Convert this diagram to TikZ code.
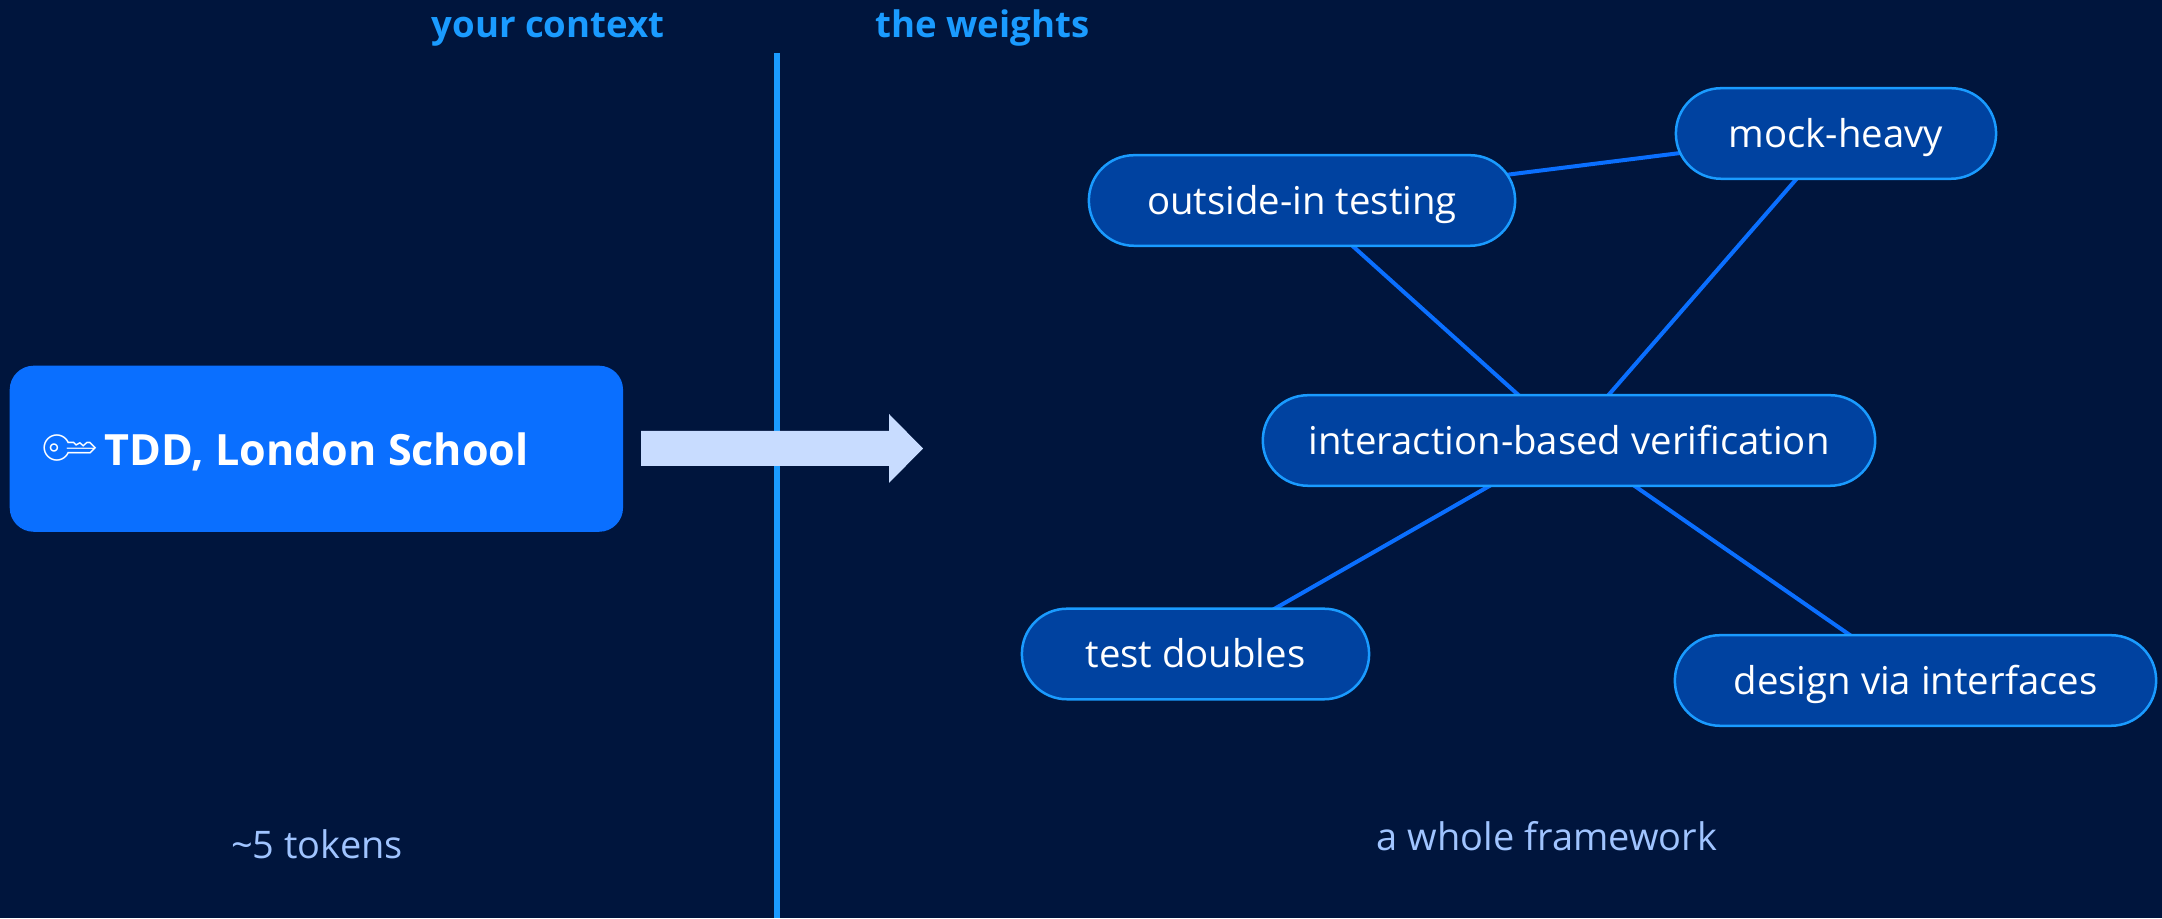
\documentclass[tikz,border=0pt]{standalone}
\usepackage{fontspec}
\usepackage{tikz}
\usetikzlibrary{backgrounds,positioning}
\setmainfont{Open Sans}
\newfontfamily\emojifont{Noto Emoji}
\definecolor{my_bg}{RGB}{0, 21, 61}
\definecolor{my_box}{RGB}{10, 111, 255}
\definecolor{my_pill}{RGB}{0, 66, 160}
\definecolor{my_sky}{RGB}{26, 155, 255}
\definecolor{my_pale}{RGB}{200, 220, 255}
\definecolor{my_muted}{RGB}{160, 196, 255}
\tikzset{
  pill/.style = {draw=my_sky, line width=0.025cm, fill=my_pill, rounded corners=0.45cm,
  text=white, inner sep=0pt, minimum height=0.905cm, text height=0.37cm, text depth=0.09cm,
  font=\fontsize{10.9}{13}\selectfont},
  caption/.style = {anchor=base, inner sep=0pt, text=my_muted, font=\fontsize{10.8}{13}\selectfont},
  heading/.style = {anchor=base, inner sep=0pt, text=my_sky, font=\fontsize{10.4}{13}\selectfont\bfseries},
  edge/.style = {draw=my_box, line width=0.04cm}
}

\begin{document}
\begin{tikzpicture}[x=0.01cm, y=-0.01cm]
    \useasboundingbox (0,0) rectangle (2162,918.4);
    \coordinate (divider_top) at (777,53);
    \coordinate (divider_bot) at (777,918.4);
    \draw[my_sky, line width=0.06cm] (divider_top) -- (divider_bot);

    \node [heading] (your_context) at (548,38) {your context};
    \node [heading] (the_weights) at (982.5,38) {the weights};

    \node [fill=my_box, rounded corners=0.24cm, anchor=north west, inner sep=0pt, minimum width=6.13cm,
        minimum height=1.66cm] (key_box) at (9,365) {};
    \node [anchor=base west, inner sep=0pt, text=white, font=\fontsize{12.25}{14}\selectfont\bfseries]
        (key_label) at (104,465.5) {TDD, London School};
    \node [inner sep=0pt, text=white, rotate=135, font=\emojifont\fontsize{11.5}{13}\selectfont]
        (key_icon) at (67.5,448) {^^^^^^01f511};
    \fill[my_pale] (641,431) -- (889,431) -- (889,414) -- (923,448.5) -- (889,483) -- (889,466)
        -- (641,466) -- cycle;

    \node [pill, minimum width=4.26cm] (outside_in) at (1302,200.5) {outside-in testing};
    \node [pill, minimum width=3.20cm] (mock_heavy) at (1836,133.5) {mock-heavy};
    \node [pill, minimum width=6.12cm] (interaction) at (1569,440.5) {interaction-based verification};
    \node [pill, minimum width=3.47cm] (test_doubles) at (1195.5,654) {test doubles};
    \node [pill, minimum width=4.81cm] (design_via) at (1915.5,680.5) {design via interfaces};

    \node [caption] (five_tokens) at (317,859) {\textasciitilde 5 tokens};
    \node [caption] (whole_framework) at (1547,851) {a whole framework};

    % the edges go from centre to centre, under the pills
    \begin{scope}[on background layer]
        \fill[my_bg] (0,0) rectangle (2162,918.4);
        \draw[edge] (outside_in.center) -- (mock_heavy.center);
        \draw[edge] (outside_in.center) -- (interaction.center);
        \draw[edge] (mock_heavy.center) -- (interaction.center);
        \draw[edge] (interaction.center) -- (test_doubles.center);
        \draw[edge] (interaction.center) -- (design_via.center);
    \end{scope}
\end{tikzpicture}
\end{document}
